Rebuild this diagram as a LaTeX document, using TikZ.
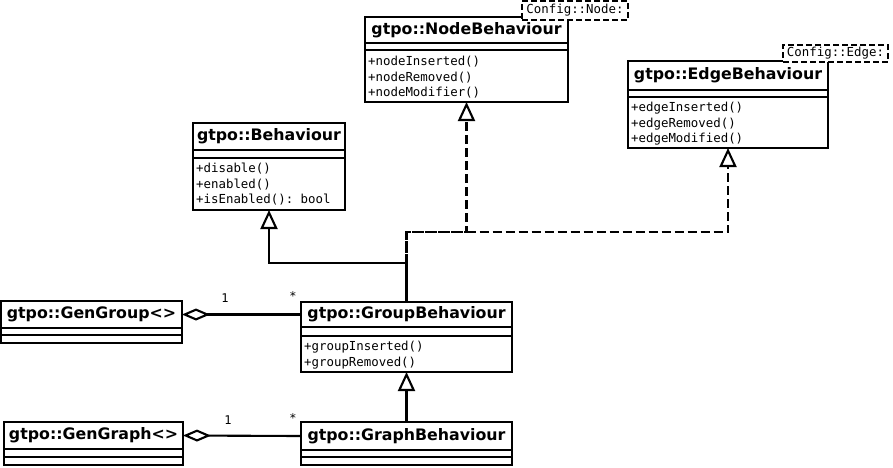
\documentclass[tikz,border=0pt]{standalone}
\usepackage{fontspec}
\setmainfont{DejaVu Sans}
\setmonofont{DejaVu Sans Mono}
\usetikzlibrary{arrows.meta}
\begin{document}
\begin{tikzpicture}[x=1pt,y=-1pt,
 lw/.style={line width=2.1pt},
 classbox/.style={draw, line width=2.1pt, anchor=north west, inner sep=0pt, outer sep=0pt, fill=white},
 titlebox/.style={anchor=north west, inner sep=0pt, outer sep=0pt, font=\bfseries\fontsize{15.8}{18}\selectfont},
 methods/.style={anchor=north west, inner sep=0pt, align=left, font=\ttfamily\fontsize{12.4}{15.6}\selectfont},
 cfg/.style={draw, dash pattern=on 6pt off 3pt, line width=2.1pt, fill=white, inner sep=0pt, outer sep=0pt, anchor=north west, font=\ttfamily\fontsize{12.4}{14}\selectfont},
 gen/.style={line width=2.1pt, -{Triangle[open, length=19pt, width=17pt, line width=2.1pt]}},
 real/.style={gen, dash pattern=on 9pt off 4pt},
 agg/.style={line width=2.1pt, {Diamond[open, length=28pt, width=12pt, line width=2.1pt]}-},
 mult/.style={font=\ttfamily\fontsize{12}{13}\selectfont, inner sep=0pt}
]
\useasboundingbox (0,0) rectangle (893,467);

% NodeBehaviour
\node[classbox, minimum width=203pt, minimum height=85pt] (nb) at (365,17) {};
\node[titlebox, minimum width=203pt, minimum height=26pt] (nbt) at (365,17) {gtpo::NodeBehaviour};
\draw[lw] (365,43) -- (568,43) (365,50) -- (568,50);
\node[methods] (nbm) at (368,56) {+nodeInserted()\\+nodeRemoved()\\+nodeModifier()};
\node[cfg, minimum width=106pt, minimum height=19pt] (nbc) at (522,1) {Config::Node:};

% EdgeBehaviour
\node[classbox, minimum width=200pt, minimum height=87pt] (eb) at (628,61) {};
\node[titlebox, minimum width=200pt, minimum height=29pt] (ebt) at (628,61) {gtpo::EdgeBehaviour};
\draw[lw] (628,90) -- (828,90) (628,97) -- (828,97);
\node[methods] (ebm) at (631,102) {+edgeInserted()\\+edgeRemoved()\\+edgeModified()};
\node[cfg, minimum width=105pt, minimum height=17pt] (ebc) at (783,45) {Config::Edge:};

% Behaviour
\node[classbox, minimum width=152pt, minimum height=87pt] (beh) at (193,123) {};
\node[titlebox, minimum width=152pt, minimum height=27pt] (beht) at (193,123) {gtpo::Behaviour};
\draw[lw] (193,150) -- (345,150) (193,158) -- (345,158);
\node[methods] (behm) at (196,163) {+disable()\\+enabled()\\+isEnabled(): bool};

% GenGroup
\node[classbox, minimum width=181pt, minimum height=42pt] (gg) at (1,301) {};
\node[titlebox, minimum width=181pt, minimum height=27pt] (ggt) at (1,301) {gtpo::GenGroup<>};
\draw[lw] (1,328) -- (182,328) (1,335) -- (182,335);

% GroupBehaviour
\node[classbox, minimum width=211pt, minimum height=70pt] (gb) at (301,302) {};
\node[titlebox, minimum width=211pt, minimum height=25pt] (gbt) at (301,302) {gtpo::GroupBehaviour};
\draw[lw] (301,327) -- (512,327) (301,336) -- (512,336);
\node[methods] (gbm) at (304,341) {+groupInserted()\\+groupRemoved()};

% GenGraph
\node[classbox, minimum width=179pt, minimum height=43pt] (gr) at (4,422) {};
\node[titlebox, minimum width=179pt, minimum height=27pt] (grt) at (4,422) {gtpo::GenGraph<>};
\draw[lw] (4,449) -- (183,449) (4,457) -- (183,457);

% GraphBehaviour
\node[classbox, minimum width=211pt, minimum height=43pt] (grb) at (301,422) {};
\node[titlebox, minimum width=211pt, minimum height=28pt] (grbt) at (301,422) {gtpo::GraphBehaviour};
\draw[lw] (301,450) -- (512,450) (301,457) -- (512,457);

% connectors
\coordinate (j1) at (gb.north |- 0,263);
\coordinate (j2) at (gb.north |- 0,232);
\draw[gen] (gb.north) -- (j1) -| (beh.south);
\draw[real] (gb.north) -- (j2) -| (eb.south);
\draw[real, dash phase=2.5pt] (gb.north) -- (j2) -| (nb.south);
\draw[gen] (grb.north) -- (gb.south);
\draw[agg] (ggt.east) -- (gbt.west);
\draw[agg] (grt.east) -- (grbt.west);

\node[mult] (m1) at (225,298) {1};
\node[mult] (m2) at (293,296) {*};
\node[mult] (m3) at (228,420) {1};
\node[mult] (m4) at (293,418) {*};
\end{tikzpicture}
\end{document}
